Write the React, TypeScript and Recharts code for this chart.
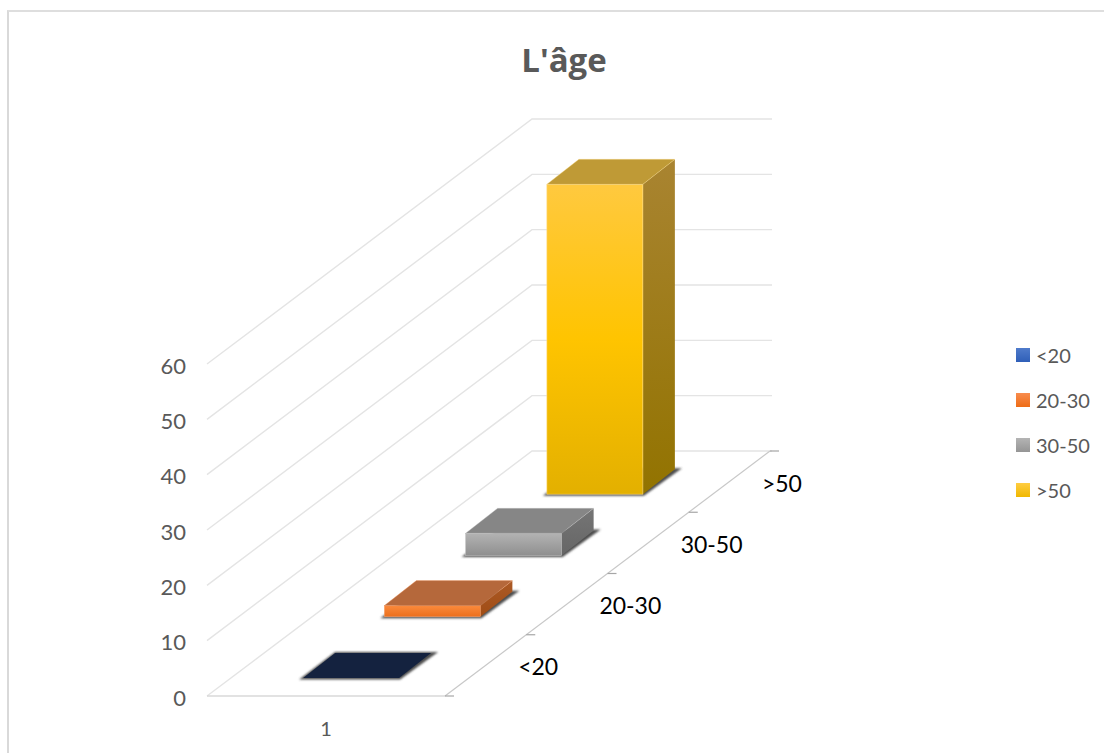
import { Bar, BarChart, CartesianGrid, Legend, XAxis, YAxis } from "recharts";

const categories = ["<20", "20-30", "30-50", ">50"];
const seriesValues = [0, 2, 4, 56];
const yTicks = [0, 10, 20, 30, 40, 50, 60];
const frontLabel = "1";

const rows = categories.map((cat, i) => ({ cat, [cat]: seriesValues[i] }));

// one colour set per series: front face, side face, top face
const faces: Record<string, { swatch: string[]; front: string[]; side: string[]; top: string; edge: string }> = {
  "<20": { swatch: ["#4f7bcb", "#2f5fb8"], front: ["#4472c4", "#2f5fb8"], side: ["#203864", "#203864"], top: "#14223f", edge: "#14223f" },
  "20-30": { swatch: ["#f88c4e", "#ee6c16"], front: ["#fa8a3c", "#ec6f1c"], side: ["#ab5a26", "#a04c14"], top: "#b5683b", edge: "#f7a06a" },
  "30-50": { swatch: ["#b4b4b4", "#959595"], front: ["#b3b3b3", "#8f8f8f"], side: ["#757575", "#666666"], top: "#868686", edge: "#c4c4c4" },
  ">50": { swatch: ["#ffcd42", "#f0b800"], front: ["#ffc93f", "#ffc400", "#e3b000"], side: ["#a98431", "#927300"], top: "#bf9a36", edge: "#ffdc85" },
};

const FONT = "Lato, 'Open Sans', sans-serif";
const PLOT_LEFT = 207;
const PLOT_BOTTOM = 696;
const DEPTH_W = 325;
const SLOPE = 245 / 325;
const FLOOR_W = 238;
const WALL_W = 240;
const BAR_W = 96;
const BAR_DX = 32;
const BAR_DY = 25;

// sloped side wall plus the back wall, one polyline per value tick
function WallLine(props: any) {
  const { x1, y1, x2 } = props;
  const backY = y1 - (x2 - x1) * SLOPE;
  return (
    <polyline
      key={`wall-${y1}`}
      points={`${x1},${y1} ${x2},${backY} ${x2 + WALL_W},${backY}`}
      fill="none"
      stroke="#e4e4e4"
      strokeWidth={1.4}
    />
  );
}

function DepthTick(props: any) {
  const { x, y, payload, index } = props;
  const rise = (px: number) => (px - PLOT_LEFT) * SLOPE;
  const edge = x + DEPTH_W / categories.length / 2;
  const edgeX = edge + FLOOR_W;
  const edgeY = y - rise(edge);
  return (
    <g>
      {index === 0 && <line x1={PLOT_LEFT + FLOOR_W} x2={PLOT_LEFT + FLOOR_W + 9} y1={y} y2={y} stroke="#a6a6a6" strokeWidth={1.2} />}
      <line x1={edgeX} x2={edgeX + 9} y1={edgeY} y2={edgeY} stroke="#a6a6a6" strokeWidth={1.2} />
      <text
        x={x + 270.5}
        y={y - rise(x) + 1}
        textAnchor="start"
        dominantBaseline="central"
        fontFamily={FONT}
        fontSize={23}
        fill="#000000"
      >
        {payload.value}
      </text>
    </g>
  );
}

// box drawn in oblique projection, from the rectangle the bar scale hands over
function Box3D(props: any) {
  const { x, y, width, height, payload, dataKey } = props;
  if (payload[dataKey] === undefined) return null;
  const c = faces[dataKey];
  const id = categories.indexOf(dataKey);
  const center = x + width / 2;
  const near = center - 16;
  const x0 = near + FLOOR_W / 2 - BAR_W / 2 + 0.5;
  const x1 = x0 + BAR_W;
  const base = y + height - (near - PLOT_LEFT) * SLOPE + 0.5;
  const top = base - height;
  return (
    <g>
      <polygon
        points={`${x0 - 4},${base + 1.5} ${x1 + 1},${base + 1.5} ${x1 + BAR_DX + 7},${base - BAR_DY - 1} ${x0 + BAR_DX},${base - BAR_DY - 1}`}
        fill="#4d4d4d"
        filter="url(#soft)"
      />
      {height > 0 && (
        <>
          <polygon points={`${x1},${base} ${x1 + BAR_DX},${base - BAR_DY} ${x1 + BAR_DX},${top - BAR_DY} ${x1},${top}`} fill={`url(#side${id})`} />
          <rect x={x0} y={top} width={BAR_W} height={height} fill={`url(#front${id})`} stroke={c.edge} strokeWidth={0.6} />
        </>
      )}
      <polygon
        points={`${x0},${top} ${x1},${top} ${x1 + BAR_DX},${top - BAR_DY} ${x0 + BAR_DX},${top - BAR_DY}`}
        fill={c.top}
        stroke={height > 0 ? c.edge : "none"}
        strokeWidth={0.6}
        strokeOpacity={0.6}
      />
    </g>
  );
}

function LegendList({ payload }: any) {
  return (
    <div style={{ fontFamily: FONT, fontSize: 20, color: "#595959" }}>
      {(payload || []).map((entry: any) => (
        <div key={entry.value} style={{ display: "flex", alignItems: "center", height: 45 }}>
          <span
            style={{
              width: 14,
              height: 14,
              marginRight: 6,
              background: `linear-gradient(${faces[entry.value].swatch.join(", ")})`,
            }}
          />
          {entry.value}
        </div>
      ))}
    </div>
  );
}

export default function App() {
  return (
    <div style={{ position: "absolute", left: 0, top: 0, width: 1104, height: 753, overflow: "hidden", background: "#fff" }}>
      <div style={{ position: "absolute", left: 7, top: 10, width: 1200, height: 900, borderLeft: "2px solid #d9d9d9", borderTop: "2px solid #dedede" }} />
      <BarChart
        width={1104}
        height={753}
        data={rows}
        margin={{ top: 364, bottom: 753 - PLOT_BOTTOM - 1, left: 167, right: 1104 - PLOT_LEFT - DEPTH_W }}
        style={{ position: "absolute", left: 0, top: 0 }}
      >
        <defs>
          <filter id="soft" x="-10%" y="-30%" width="120%" height="160%">
            <feGaussianBlur stdDeviation={1.2} />
          </filter>
          {categories.map((cat, i) => (
            <g key={cat}>
              <linearGradient id={`front${i}`} x1="0" y1="0" x2="0" y2="1">
                {faces[cat].front.map((col, k) => (
                  <stop key={col} offset={k / (faces[cat].front.length - 1)} stopColor={col} />
                ))}
              </linearGradient>
              <linearGradient id={`side${i}`} x1="0" y1="0" x2="0" y2="1">
                <stop offset={0} stopColor={faces[cat].side[0]} />
                <stop offset={1} stopColor={faces[cat].side[1]} />
              </linearGradient>
            </g>
          ))}
        </defs>
        <text x={564} y={71.5} textAnchor="middle" fontFamily="'Open Sans', sans-serif" fontWeight={700} fontSize={33} fill="#595959">
          L'âge
        </text>
        <CartesianGrid vertical={false} horizontal={WallLine} />
        <line x1={PLOT_LEFT} x2={PLOT_LEFT + FLOOR_W} y1={PLOT_BOTTOM} y2={PLOT_BOTTOM} stroke="#d9d9d9" strokeWidth={1.4} />
        <line
          x1={PLOT_LEFT + FLOOR_W}
          x2={PLOT_LEFT + FLOOR_W + DEPTH_W}
          y1={PLOT_BOTTOM}
          y2={PLOT_BOTTOM - DEPTH_W * SLOPE}
          stroke="#c8c8c8"
          strokeWidth={1.2}
        />
        <text x={PLOT_LEFT + FLOOR_W / 2} y={736} textAnchor="middle" fontFamily={FONT} fontSize={20} fill="#595959">
          {frontLabel}
        </text>
        <XAxis dataKey="cat" axisLine={false} tickLine={false} tickSize={0} tickMargin={0} height={1} interval={0} tick={DepthTick} />
        <YAxis
          width={40}
          domain={[0, 60]}
          ticks={yTicks}
          axisLine={false}
          tickLine={false}
          tickSize={0}
          tickMargin={21}
          tick={{ fontFamily: FONT, fontSize: 22, fill: "#595959", dy: 2 }}
        />
        <Legend
          layout="vertical"
          align="center"
          verticalAlign="middle"
          itemSorter={null}
          content={LegendList}
          wrapperStyle={{ left: 1016, top: 332, width: 88, bottom: "auto", right: "auto" }}
        />
        {categories.map((cat) => (
          <Bar key={cat} dataKey={cat} stackId="age" fill={faces[cat].front[0]} shape={Box3D} isAnimationActive={false} />
        ))}
      </BarChart>
    </div>
  );
}
